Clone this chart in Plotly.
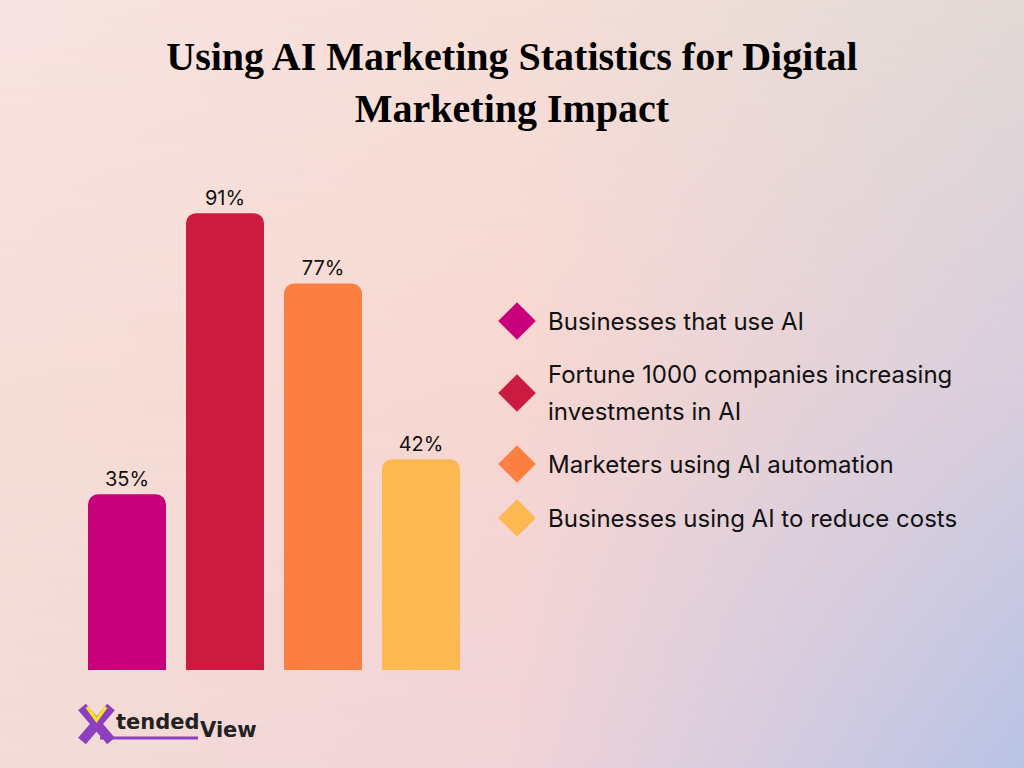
import base64
import plotly.graph_objects as go

# ---------------- data ----------------
categories = [
    "Businesses that use AI",
    "Fortune 1000 companies increasing investments in AI",
    "Marketers using AI automation",
    "Businesses using AI to reduce costs",
]
values = [35, 91, 77, 42]
legend_lines = [
    ["Businesses that use AI"],
    ["Fortune 1000 companies increasing", "investments in AI"],
    ["Marketers using AI automation"],
    ["Businesses using AI to reduce costs"],
]
colors = ["#C8007C", "#CC1B40", "#FA7F40", "#FEB852"]
title_text = "Using AI Marketing Statistics for Digital<br>Marketing Impact"

W, H = 1024, 768


def px(x):
    return x / W


def py(y):
    return 1 - y / H


# ---------------- background gradient (SVG) ----------------
svg = f'''<svg xmlns="http://www.w3.org/2000/svg" width="{W}" height="{H}" viewBox="0 0 {W} {H}" preserveAspectRatio="none">
<defs>
<linearGradient id="t" x1="0" y1="0" x2="1" y2="0"><stop offset="0" stop-color="#F8E4E2"/><stop offset="0.5" stop-color="#F6DFD8"/><stop offset="1" stop-color="#E2DAD6"/></linearGradient>
<linearGradient id="m" x1="0" y1="0" x2="1" y2="0"><stop offset="0" stop-color="#F6DED8"/><stop offset="0.5" stop-color="#F8D7D1"/><stop offset="1" stop-color="#D8CEDD"/></linearGradient>
<linearGradient id="b" x1="0" y1="0" x2="1" y2="0"><stop offset="0" stop-color="#F2DCD6"/><stop offset="0.5" stop-color="#F1D3D8"/><stop offset="1" stop-color="#B8C3E6"/></linearGradient>
<linearGradient id="vm" x1="0" y1="0" x2="0" y2="1"><stop offset="0" stop-color="#fff" stop-opacity="0"/><stop offset="0.5" stop-color="#fff" stop-opacity="1"/><stop offset="1" stop-color="#fff" stop-opacity="1"/></linearGradient>
<linearGradient id="vb" x1="0" y1="0" x2="0" y2="1"><stop offset="0" stop-color="#fff" stop-opacity="0"/><stop offset="0.5" stop-color="#fff" stop-opacity="0"/><stop offset="1" stop-color="#fff" stop-opacity="1"/></linearGradient>
<mask id="mm"><rect x="0" y="0" width="{W}" height="{H}" fill="url(#vm)"/></mask>
<mask id="mb"><rect x="0" y="0" width="{W}" height="{H}" fill="url(#vb)"/></mask>
</defs>
<rect x="0" y="0" width="{W}" height="{H}" fill="url(#t)"/>
<rect x="0" y="0" width="{W}" height="{H}" fill="url(#m)" mask="url(#mm)"/>
<rect x="0" y="0" width="{W}" height="{H}" fill="url(#b)" mask="url(#mb)"/>
</svg>'''
bg_src = "data:image/svg+xml;base64," + base64.b64encode(svg.encode()).decode()

fig = go.Figure()

# ---------------- bars ----------------
fig.add_trace(go.Bar(
    x=categories,
    y=values,
    marker=dict(color=colors, cornerradius=10, line=dict(width=0)),
    texttemplate="%{y}%",
    textposition="outside",
    textfont=dict(family="Inter", size=20, color="#111111"),
    cliponaxis=False,
    showlegend=False,
    hoverinfo="skip",
))

# ---------------- custom legend ----------------
legend_x = 517
legend_rows_y = [321, 393, 464, 518]
line_gap = 37
text_x = 546

fig.add_trace(go.Scatter(
    x=[px(legend_x)] * len(categories),
    y=[py(v) for v in legend_rows_y],
    xaxis="x2", yaxis="y2",
    mode="markers",
    marker=dict(symbol="diamond", size=29, color=colors, line=dict(width=0)),
    showlegend=False,
    hoverinfo="skip",
))

annotations = []
for lines, yc in zip(legend_lines, legend_rows_y):
    n = len(lines)
    for i, ln in enumerate(lines):
        yy = yc + (i - (n - 1) / 2) * line_gap
        annotations.append(dict(
            x=px(text_x), y=py(yy), xref="paper", yref="paper",
            xanchor="left", yanchor="middle", showarrow=False,
            text=ln, font=dict(family="Inter", size=24, color="#111111"),
        ))

# ---------------- logo ----------------
annotations.append(dict(
    x=px(114), y=py(722), xref="paper", yref="paper", xanchor="left", yanchor="middle",
    showarrow=False, text="<b>tended</b>",
    font=dict(family="DejaVu Sans", size=21, color="#222222"),
))
annotations.append(dict(
    x=px(198), y=py(730), xref="paper", yref="paper", xanchor="left", yanchor="middle",
    showarrow=False, text="<b>View</b>",
    font=dict(family="DejaVu Sans", size=21, color="#222222"),
))

shapes = [
    # X strokes (purple)
    dict(type="line", xref="paper", yref="paper", x0=px(82), y0=py(707), x1=px(111), y1=py(741),
         line=dict(color="#8E3FC0", width=10)),
    dict(type="line", xref="paper", yref="paper", x0=px(111), y0=py(707), x1=px(82), y1=py(741),
         line=dict(color="#8E3FC0", width=10)),
    # underline
    dict(type="line", xref="paper", yref="paper", x0=px(100), y0=py(738), x1=px(198), y1=py(738),
         line=dict(color="#8E3FC0", width=3)),
    # yellow V inlay
    dict(type="path", xref="paper", yref="paper",
         path=f"M {px(87)},{py(707)} L {px(96.5)},{py(720)} L {px(106)},{py(707)}",
         line=dict(color="#F4E51E", width=3.5)),
]

fig.update_layout(
    width=W, height=H,
    margin=dict(l=0, r=0, t=0, b=0),
    paper_bgcolor="#F6DCD6",
    plot_bgcolor="rgba(0,0,0,0)",
    bargap=0.204,
    title=dict(
        text=title_text,
        x=0.5, xanchor="center", xref="paper",
        y=py(70), yanchor="middle", yref="container",
        font=dict(family="Liberation Serif", size=40, color="#000000", weight="bold"),
    ),
    xaxis=dict(domain=[px(78), px(470)], range=[-0.5, 3.5], visible=False, fixedrange=True),
    yaxis=dict(domain=[py(670), py(168)], range=[0, 100], visible=False, fixedrange=True),
    xaxis2=dict(domain=[0, 1], range=[0, 1], visible=False, anchor="y2", fixedrange=True),
    yaxis2=dict(domain=[0, 1], range=[0, 1], visible=False, anchor="x2", fixedrange=True),
    images=[dict(source=bg_src, xref="paper", yref="paper", x=0, y=1, sizex=1, sizey=1,
                 sizing="stretch", xanchor="left", yanchor="top", layer="below")],
    annotations=annotations,
    shapes=shapes,
    showlegend=False,
)

fig.write_html("out.html")
